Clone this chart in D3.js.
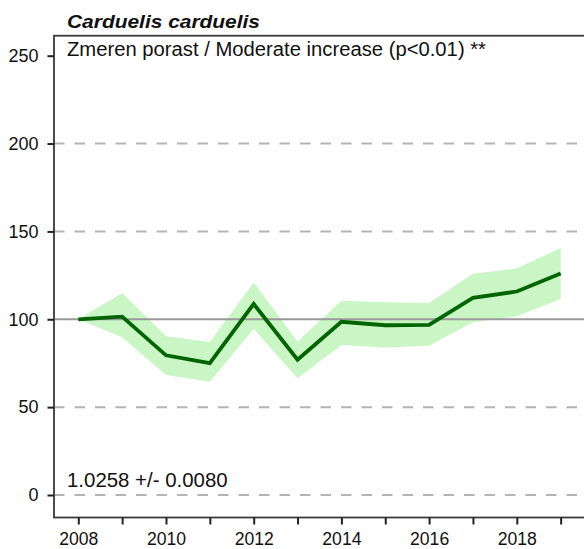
<!DOCTYPE html>
<html>
<head>
<meta charset="utf-8">
<script src="https://cdn.jsdelivr.net/npm/d3@7"></script>
<style>
  html, body { margin: 0; padding: 0; background: #fff; }
  svg { display: block; }
  text { font-family: Arial, "Liberation Sans", sans-serif; fill: #111; }
</style>
</head>
<body>
<div id="chart"></div>
<script>
/* Carduelis carduelis — population index with confidence band */
const years = [2008, 2009, 2010, 2011, 2012, 2013, 2014, 2015, 2016, 2017, 2018, 2019];
const index = [100, 101.5, 79.5, 75, 108.7, 77, 98.6, 96.6, 96.8, 112.2, 115.8, 126];
const upper = [100, 115, 90.4, 87, 121, 87.3, 110.6, 109.7, 109.3, 125.9, 129, 140.5];
const lower = [100, 89.8, 68.3, 64.5, 94.5, 66.4, 85.4, 84, 85, 98.3, 101.7, 111.6];
const yTicks = [0, 50, 100, 150, 200, 250];
const dashedAt = [0, 50, 150, 200];
const title = 'Carduelis carduelis';
const subtitle = 'Zmeren porast / Moderate increase (p<0.01) **';
const slope = '1.0258 +/- 0.0080';

const W = 584, H = 549;
const box = {l: 54, t: 35.7, b: 517.5, r: 590};

const svg = d3.select('#chart').append('svg').attr('width', W).attr('height', H);

const x = d3.scaleLinear().domain([2008, 2019]).range([78.3, 560.65]);
const y = d3.scaleLinear().domain([0, 250]).range([495, 55.7]);

const rows = years.map((yr, i) => ({yr, v: index[i], lo: lower[i], hi: upper[i]}));

/* --- reference lines --- */
svg.selectAll('line.grid').data(dashedAt).enter().append('line').attr('class', 'grid')
  .attr('x1', box.l).attr('x2', box.r)
  .attr('y1', d => y(d)).attr('y2', d => y(d))
  .style('stroke', '#b4b4b4').style('stroke-width', 2).style('stroke-dasharray', '10.5,10');

/* --- band + line --- */
svg.append('path').datum(rows)
  .attr('d', d3.area().x(d => x(d.yr)).y0(d => y(d.lo)).y1(d => y(d.hi)))
  .style('fill', '#c9f6c4').style('stroke', 'none');

svg.append('line')
  .attr('x1', box.l).attr('x2', box.r).attr('y1', y(100)).attr('y2', y(100))
  .style('stroke', '#9a9a9a').style('stroke-width', 2);

svg.append('path').datum(rows)
  .attr('d', d3.line().x(d => x(d.yr)).y(d => y(d.v)))
  .style('fill', 'none').style('stroke', '#006400').style('stroke-width', 3.8)
  .style('stroke-linejoin', 'miter');

/* --- frame --- */
svg.append('rect')
  .attr('x', box.l).attr('y', box.t).attr('width', box.r - box.l).attr('height', box.b - box.t)
  .style('fill', 'none').style('stroke', '#3a3a3a').style('stroke-width', 1.8);

/* --- axes --- */
const yAxis = svg.append('g').attr('transform', `translate(${box.l},0)`)
  .call(d3.axisLeft(y).tickValues(yTicks).tickSize(6.5).tickPadding(9).tickFormat(d3.format('d')));
const xAxis = svg.append('g').attr('transform', `translate(0,${box.b})`)
  .call(d3.axisBottom(x).tickValues(years).tickSize(7).tickPadding(8)
    .tickFormat(d => d % 2 === 0 ? d : ''));
[yAxis, xAxis].forEach(a => {
  a.select('.domain').remove();
  a.selectAll('line').style('stroke', '#222').style('stroke-width', 2);
  a.selectAll('text').style('font-size', '18px').style('fill', '#111');
});
xAxis.selectAll('text').style('font-size', '17.6px');

/* --- texts --- */
svg.append('text').attr('x', 67).attr('y', 28.3)
  .attr('textLength', 193).attr('lengthAdjust', 'spacingAndGlyphs')
  .style('font-size', '18px').style('font-weight', 'bold').style('font-style', 'italic')
  .text(title);
svg.append('text').attr('x', 67).attr('y', 55.7)
  .attr('textLength', 419).attr('lengthAdjust', 'spacingAndGlyphs')
  .style('font-size', '19.5px').text(subtitle);
svg.append('text').attr('x', 67).attr('y', 486.7)
  .attr('textLength', 160.6).attr('lengthAdjust', 'spacingAndGlyphs')
  .style('font-size', '19.5px').text(slope);
</script>
</body>
</html>
